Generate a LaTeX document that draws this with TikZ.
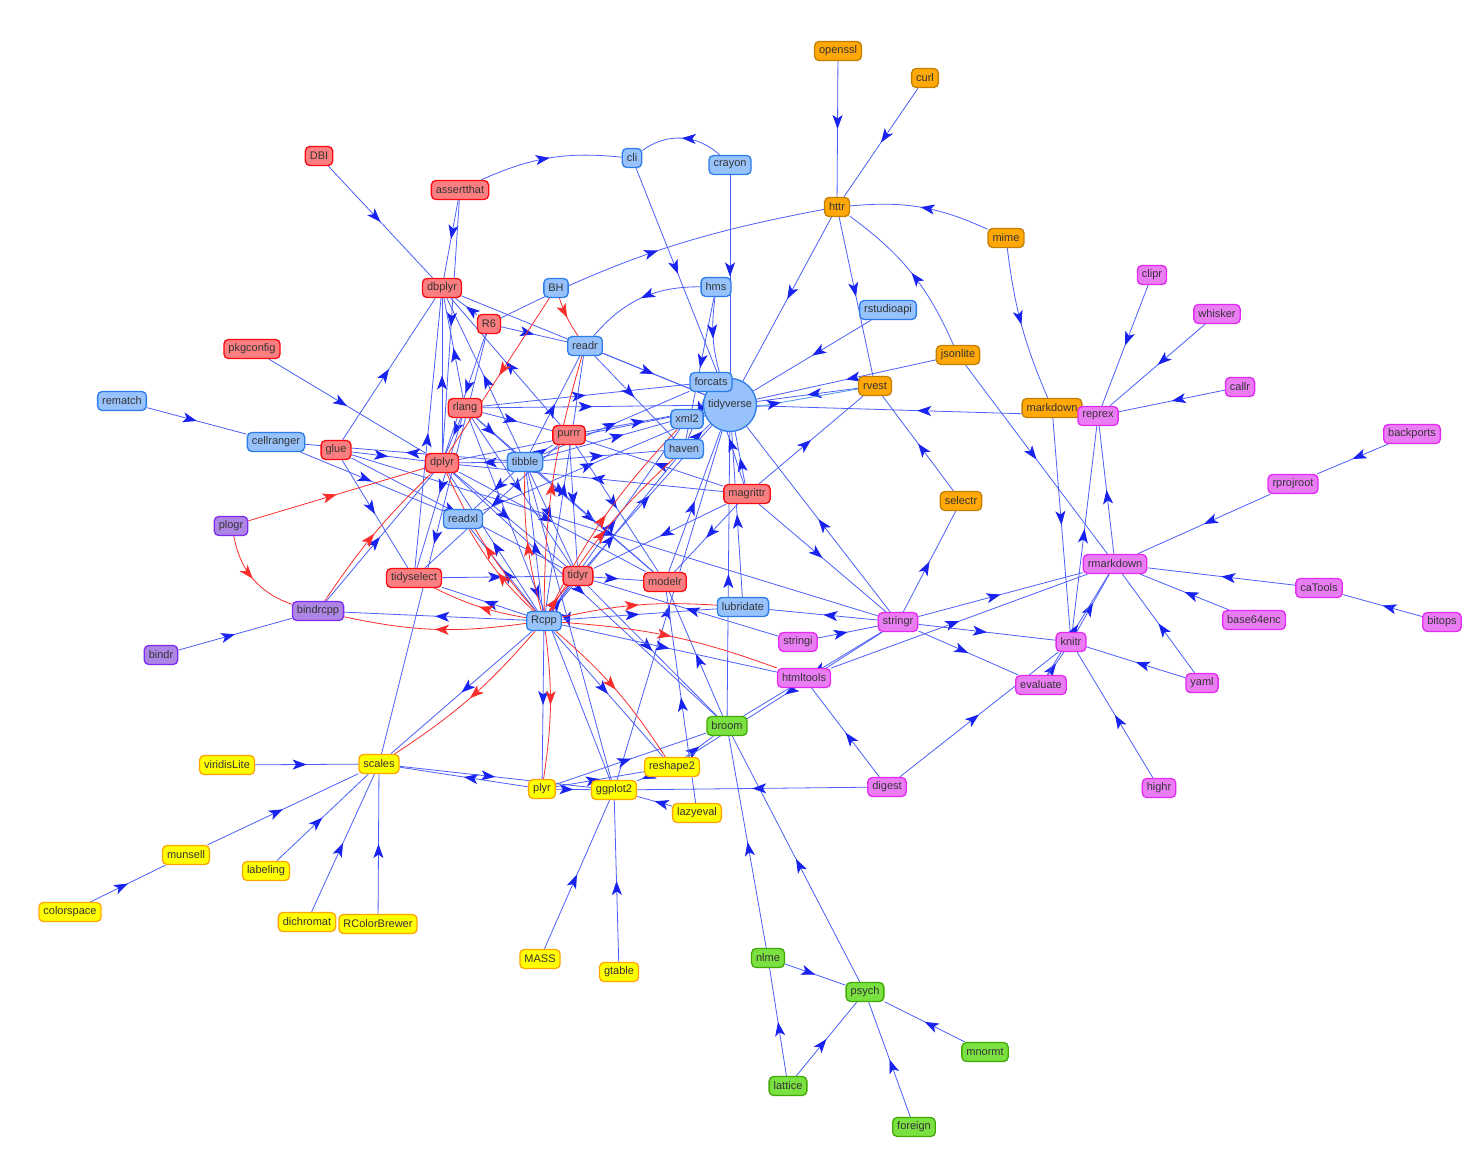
\documentclass[tikz,border=0pt]{standalone}
\usepackage{fontspec}
\setmainfont{Liberation Sans}
\usetikzlibrary{shapes,arrows.meta,positioning,decorations.markings,backgrounds}

\definecolor{bluebg}{HTML}{97C2FC}
\definecolor{bluebd}{HTML}{2B7CE9}
\definecolor{redbg}{HTML}{FB7E81}
\definecolor{redbd}{HTML}{FA0A10}
\definecolor{ylwbg}{HTML}{FFFF00}
\definecolor{ylwbd}{HTML}{FFA500}
\definecolor{grnbg}{HTML}{7BE141}
\definecolor{grnbd}{HTML}{41A906}
\definecolor{pinkbg}{HTML}{EB7DF4}
\definecolor{pinkbd}{HTML}{E129F0}
\definecolor{purpbg}{HTML}{AD85E4}
\definecolor{purpbd}{HTML}{7C29F0}
\definecolor{orngbg}{HTML}{FFA807}
\definecolor{orngbd}{HTML}{C37F00}
\definecolor{edgeblue}{RGB}{75,95,250}
\definecolor{tipblue}{RGB}{25,35,240}
\definecolor{edgered}{RGB}{250,45,45}
\definecolor{edgesky}{RGB}{70,150,240}
\definecolor{txtgrey}{HTML}{343434}

\tikzstyle{dep} = [edgeblue,line width=0.8pt,postaction={decorate},decoration={markings,mark=at position 0.5 with {\arrow{Stealth[length=14pt,width=10pt,inset=3.5pt,color=tipblue]}}}]
\tikzstyle{lnk} = [edgered,line width=0.8pt,postaction={decorate},decoration={markings,mark=at position 0.5 with {\arrow{Stealth[length=14pt,width=10pt,inset=3.5pt]}}}]

\tikzset{
pkg/.style={rectangle,rounded corners=4.5pt,line width=1.3pt,text=txtgrey,font=\fontsize{11}{13}\selectfont,inner xsep=4.5pt,inner ysep=0pt,minimum height=19pt},
blu/.style={pkg,draw=bluebd,fill=bluebg},
rd/.style={pkg,draw=redbd,fill=redbg},
ylw/.style={pkg,draw=ylwbd,fill=ylwbg},
grn/.style={pkg,draw=grnbd,fill=grnbg},
pnk/.style={pkg,draw=pinkbd,fill=pinkbg},
prp/.style={pkg,draw=purpbd,fill=purpbg},
org/.style={pkg,draw=orngbd,fill=orngbg}
}

\begin{document}
\begin{tikzpicture}[x=1pt,y=-1pt]
\useasboundingbox (0,0) rectangle (1480,1150);

% the hub
\node[circle,draw=bluebd,fill=bluebg,line width=1.3pt,minimum size=53pt,inner sep=0pt,text=txtgrey,font=\fontsize{11}{13}\selectfont] (tidyverse) at (730,405) {tidyverse};

% orange packages
\node[org] (openssl) at (838,51) {openssl};
\node[org] (curl) at (925,78) {curl};
\node[org] (httr) at (837,207) {httr};
\node[org] (mime) at (1006,238) {mime};
\node[org] (jsonlite) at (958,355) {jsonlite};
\node[org] (rvest) at (875,386) {rvest};
\node[org] (markdown) at (1052,408) {markdown};
\node[org] (selectr) at (961,501) {selectr};

% red packages
\node[rd] (DBI) at (319,156) {DBI};
\node[rd] (assertthat) at (460,190) {assertthat};
\node[rd] (dbplyr) at (442,288) {dbplyr};
\node[rd] (R6) at (489,324) {R6};
\node[rd] (pkgconfig) at (252,349) {pkgconfig};
\node[rd] (rlang) at (465,408) {rlang};
\node[rd] (purrr) at (569,435) {purrr};
\node[rd] (glue) at (336,450) {glue};
\node[rd] (dplyr) at (442,463) {dplyr};
\node[rd] (magrittr) at (747,494) {magrittr};
\node[rd] (tidyselect) at (414,578) {tidyselect};
\node[rd] (tidyr) at (578,576) {tidyr};
\node[rd] (modelr) at (665,582) {modelr};

% blue packages
\node[blu] (cli) at (632,158) {cli};
\node[blu] (crayon) at (730,165) {crayon};
\node[blu] (BH) at (556,288) {BH};
\node[blu] (hms) at (716,287) {hms};
\node[blu] (rstudioapi) at (888,310) {rstudioapi};
\node[blu] (readr) at (585,346) {readr};
\node[blu] (forcats) at (711,382) {forcats};
\node[blu] (rematch) at (122,401) {rematch};
\node[blu] (xml2) at (687,419) {xml2};
\node[blu] (cellranger) at (276,442) {cellranger};
\node[blu] (haven) at (684,449) {haven};
\node[blu] (tibble) at (525,462) {tibble};
\node[blu] (readxl) at (463,519) {readxl};
\node[blu] (lubridate) at (743,607) {lubridate};
\node[blu] (Rcpp) at (544,621) {Rcpp};

% purple packages
\node[prp] (plogr) at (231,526) {plogr};
\node[prp] (bindrcpp) at (318,611) {bindrcpp};
\node[prp] (bindr) at (161,655) {bindr};

% yellow packages
\node[ylw] (viridisLite) at (227,765) {viridisLite};
\node[ylw] (scales) at (379,764) {scales};
\node[ylw] (reshape2) at (672,767) {reshape2};
\node[ylw] (plyr) at (542,789) {plyr};
\node[ylw] (ggplot2) at (614,790) {ggplot2};
\node[ylw] (lazyeval) at (697,813) {lazyeval};
\node[ylw] (munsell) at (186,855) {munsell};
\node[ylw] (labeling) at (266,871) {labeling};
\node[ylw] (colorspace) at (70,912) {colorspace};
\node[ylw] (dichromat) at (307,922) {dichromat};
\node[ylw] (RColorBrewer) at (378,924) {RColorBrewer};
\node[ylw] (MASS) at (540,959) {MASS};
\node[ylw] (gtable) at (619,972) {gtable};

% green packages
\node[grn] (broom) at (727,726) {broom};
\node[grn] (nlme) at (768,958) {nlme};
\node[grn] (psych) at (865,992) {psych};
\node[grn] (mnormt) at (985,1052) {mnormt};
\node[grn] (lattice) at (788,1086) {lattice};
\node[grn] (foreign) at (914,1127) {foreign};

% pink packages
\node[pnk] (stringr) at (898,622) {stringr};
\node[pnk] (stringi) at (798,642) {stringi};
\node[pnk] (htmltools) at (804,678) {htmltools};
\node[pnk] (digest) at (887,787) {digest};
\node[pnk] (clipr) at (1152,275) {clipr};
\node[pnk] (whisker) at (1217,314) {whisker};
\node[pnk] (callr) at (1240,387) {callr};
\node[pnk] (reprex) at (1098,416) {reprex};
\node[pnk] (backports) at (1412,434) {backports};
\node[pnk] (rprojroot) at (1293,484) {rprojroot};
\node[pnk] (rmarkdown) at (1115,564) {rmarkdown};
\node[pnk] (caTools) at (1319,588) {caTools};
\node[pnk] (base64enc) at (1254,620) {base64enc};
\node[pnk] (bitops) at (1442,622) {bitops};
\node[pnk] (knitr) at (1071,642) {knitr};
\node[pnk] (yaml) at (1202,683) {yaml};
\node[pnk] (evaluate) at (1041,685) {evaluate};
\node[pnk] (highr) at (1159,788) {highr};

\begin{pgfonlayer}{background}
\fill[white] (0,0) rectangle (1480,1150);

% imports of the hub
\foreach \a in {broom,cli,crayon,dbplyr,dplyr,forcats,ggplot2,haven,httr,jsonlite,lubridate,magrittr,modelr,purrr,readr,readxl,reprex,rlang,rstudioapi,rvest,stringr,tibble,tidyr,xml2}
  \draw[dep] (\a) -- (tidyverse);

% imports between the other packages
\foreach \a/\b in {dplyr/broom,plyr/broom,psych/broom,stringr/broom,reshape2/broom,nlme/broom,tidyr/broom,
  assertthat/dbplyr,DBI/dbplyr,dplyr/dbplyr,glue/dbplyr,purrr/dbplyr,R6/dbplyr,rlang/dbplyr,tibble/dbplyr,tidyselect/dbplyr,
  assertthat/dplyr,bindrcpp/dplyr,glue/dplyr,magrittr/dplyr,pkgconfig/dplyr,rlang/dplyr,R6/dplyr,Rcpp/dplyr,tibble/dplyr,
  magrittr/forcats,tibble/forcats,rlang/forcats,
  digest/ggplot2,gtable/ggplot2,lazyeval/ggplot2,MASS/ggplot2,plyr/ggplot2,reshape2/ggplot2,rlang/ggplot2,scales/ggplot2,tibble/ggplot2,
  forcats/haven,hms/haven,Rcpp/haven,readr/haven,tibble/haven,
  curl/httr,openssl/httr,
  stringr/lubridate,Rcpp/lubridate,
  broom/modelr,dplyr/modelr,lazyeval/modelr,magrittr/modelr,purrr/modelr,tibble/modelr,tidyr/modelr,rlang/modelr,
  magrittr/purrr,rlang/purrr,tibble/purrr,
  Rcpp/readr,tibble/readr,R6/readr,
  cellranger/readxl,Rcpp/readxl,tibble/readxl,
  callr/reprex,clipr/reprex,knitr/reprex,rmarkdown/reprex,whisker/reprex,
  httr/rvest,selectr/rvest,magrittr/rvest,
  glue/stringr,magrittr/stringr,stringi/stringr,
  rlang/tibble,Rcpp/tibble,
  dplyr/tidyr,glue/tidyr,magrittr/tidyr,purrr/tidyr,Rcpp/tidyr,rlang/tidyr,stringi/tidyr,tibble/tidyr,tidyselect/tidyr,
  Rcpp/xml2,
  glue/tidyselect,purrr/tidyselect,rlang/tidyselect,Rcpp/tidyselect,
  bindr/bindrcpp,Rcpp/bindrcpp,
  rematch/cellranger,tibble/cellranger,
  RColorBrewer/scales,dichromat/scales,plyr/scales,munsell/scales,labeling/scales,Rcpp/scales,R6/scales,viridisLite/scales,
  colorspace/munsell,
  Rcpp/plyr,
  plyr/reshape2,Rcpp/reshape2,stringr/reshape2,
  mnormt/psych,foreign/psych,lattice/psych,nlme/psych,
  lattice/nlme,
  evaluate/knitr,digest/knitr,highr/knitr,markdown/knitr,stringr/knitr,yaml/knitr,
  knitr/rmarkdown,yaml/rmarkdown,htmltools/rmarkdown,caTools/rmarkdown,evaluate/rmarkdown,base64enc/rmarkdown,jsonlite/rmarkdown,rprojroot/rmarkdown,stringr/rmarkdown,
  backports/rprojroot,bitops/caTools,
  digest/htmltools,Rcpp/htmltools,
  stringr/evaluate,stringr/selectr}
  \draw[dep] (\a) -- (\b);

% a few curved imports
\foreach \a/\b/\c in {crayon/cli/-40,assertthat/cli/15,mime/httr/-15,jsonlite/httr/-15,hms/readr/-25,hms/tidyverse/-12,R6/httr/8,mime/markdown/-8}
  \draw[dep] (\a) to[bend left=\c] (\b);
\draw[dep,edgesky] (xml2) -- (rvest);

% linking to (red)
\foreach \a/\b/\c in {Rcpp/dplyr/8,BH/dplyr/0,bindrcpp/dplyr/6,plogr/dplyr/0,Rcpp/haven/8,Rcpp/lubridate/8,Rcpp/readr/8,BH/readr/-8,
  Rcpp/readxl/8,Rcpp/tibble/8,Rcpp/tidyr/8,Rcpp/xml2/8,Rcpp/tidyselect/8,plogr/bindrcpp/-30,Rcpp/bindrcpp/10,
  Rcpp/scales/8,Rcpp/plyr/8,Rcpp/reshape2/8,Rcpp/htmltools/8}
  \draw[lnk] (\a) to[bend left=\c] (\b);
\end{pgfonlayer}

\end{tikzpicture}
\end{document}
